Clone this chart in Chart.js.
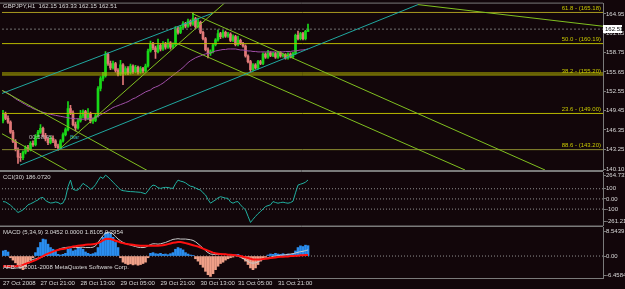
<!DOCTYPE html>
<html>
<head>
<meta charset="utf-8">
<script src="https://cdn.jsdelivr.net/npm/chart.js@4.4.0/dist/chart.umd.min.js"></script>
<style>
	body { margin: 0; background: #12060a; width: 625px; height: 289px; overflow: hidden; position: relative; }
	canvas { position: absolute; left: 0; }
	#main { top: 0; }
	#cci { top: 164px; }
	#macd { top: 220px; }
</style>
</head>
<body>
<canvas id="main" width="625" height="180"></canvas>
<canvas id="cci" width="625" height="70"></canvas>
<canvas id="macd" width="625" height="69"></canvas>
<script>
//GBPJPY H1 candles, one value per bar (bar 0 = 27 Oct 2008)
let opens = [147.8,148.9,148.2,147.6,146.0,144.5,143.2,142.0,141.9,142.8,
	143.5,143.2,144.2,144.0,145.3,146.0,146.6,145.5,144.9,144.3,
	145.0,144.6,143.8,143.5,144.6,145.6,146.4,149.8,149.1,147.2,
	146.7,147.8,148.6,149.3,148.2,149.0,147.8,147.9,148.6,153.0,
	154.6,155.0,158.5,157.0,156.3,157.0,155.9,155.3,156.8,155.4,
	156.2,155.5,156.6,155.7,156.4,155.6,156.2,155.8,156.6,159.0,
	160.1,159.5,158.9,159.9,159.3,160.2,159.6,160.3,159.6,160.0,
	162.6,162.0,162.8,163.4,163.0,163.8,163.3,164.2,162.9,163.6,
	162.0,161.0,159.2,158.6,158.9,160.0,160.8,161.8,161.3,162.0,
	161.4,161.7,160.7,161.3,160.0,160.7,160.2,159.8,158.2,157.3,
	156.0,156.8,156.3,157.3,157.0,158.5,158.0,158.7,158.3,158.6,
	158.0,158.7,158.2,158.4,157.9,158.5,158.1,158.6,161.5,161.0,
	161.8,161.0,162.15]
let highs = [149.5,149.2,148.6,147.8,146.3,144.8,143.5,142.6,143.0,143.8,
	143.9,144.5,144.6,145.6,146.3,147.2,146.8,145.8,145.1,145.3,
	145.4,144.8,144.1,144.8,145.9,146.7,150.9,150.3,149.4,147.6,
	148.1,149.5,149.6,149.5,149.8,149.2,148.3,148.9,153.3,154.9,
	155.6,158.9,158.7,157.4,157.4,157.2,156.2,157.5,157.0,156.5,
	156.5,156.9,156.8,156.7,156.6,156.5,156.4,156.9,159.3,160.6,
	160.4,159.8,160.9,160.2,160.5,160.4,160.9,160.5,160.3,162.9,
	162.9,163.1,163.7,163.6,164.1,164.0,165.2,164.4,164.3,163.8,
	162.2,161.2,159.5,159.2,160.2,161.0,162.4,162.0,162.3,162.2,
	162.0,161.9,161.6,161.5,161.4,160.9,160.4,160.0,158.4,157.5,
	157.0,157.0,157.5,157.5,158.7,158.7,159.1,158.9,158.8,158.8,
	158.9,158.9,158.6,158.6,158.7,158.7,158.8,161.7,162.2,162.0,
	162.0,162.3,163.33]
let lows = [147.5,148.0,147.4,145.8,144.3,143.0,141.0,141.3,141.6,142.5,
	142.9,143.0,143.7,143.8,145.0,145.8,145.2,144.6,144.0,144.1,
	144.3,143.5,143.1,143.3,144.4,145.4,146.2,148.8,147.0,146.2,
	146.5,147.6,148.3,147.9,148.0,147.5,147.4,147.7,148.4,152.6,
	154.2,154.8,156.7,156.0,156.1,155.6,155.0,155.1,153.6,155.2,
	155.2,155.3,155.4,155.5,155.3,155.4,155.5,155.6,156.4,158.8,
	159.2,157.8,158.7,159.0,159.1,159.3,159.4,159.3,159.4,159.8,
	161.7,161.8,162.5,162.7,162.8,163.0,163.1,162.6,162.7,161.8,
	160.8,159.0,157.9,158.3,158.7,159.8,160.6,161.0,161.1,161.2,
	161.2,160.5,160.5,159.8,159.8,160.0,159.6,158.0,157.1,155.6,
	155.8,156.1,156.1,156.8,156.8,157.8,157.8,158.1,158.1,157.8,
	157.8,158.0,158.0,157.7,157.7,157.9,157.9,158.4,160.8,160.8,
	160.8,160.8,162.15]
let closes = [148.9,148.2,147.6,146.0,144.5,143.2,142.0,141.9,142.8,143.5,
	143.2,144.2,144.0,145.3,146.0,146.6,145.5,144.9,144.3,145.0,
	144.6,143.8,143.5,144.6,145.6,146.4,149.8,149.1,147.2,146.7,
	147.8,148.6,149.3,148.2,149.0,147.8,147.9,148.6,153.0,154.6,
	155.0,158.5,157.0,156.3,157.0,155.9,155.3,156.8,155.4,156.2,
	155.5,156.6,155.7,156.4,155.6,156.2,155.8,156.6,159.0,160.1,
	159.5,158.9,159.9,159.3,160.2,159.6,160.3,159.6,160.0,162.6,
	162.0,162.8,163.4,163.0,163.8,163.3,164.2,162.9,163.6,162.0,
	161.0,159.2,158.6,158.9,160.0,160.8,161.8,161.3,162.0,161.4,
	161.7,160.7,161.3,160.0,160.7,160.2,159.8,158.2,157.3,156.0,
	156.8,156.3,157.3,157.0,158.5,158.0,158.7,158.3,158.6,158.0,
	158.7,158.2,158.4,157.9,158.5,158.1,158.6,161.5,161.0,161.8,
	161.0,162.15,162.51]

//moving average (purple)
let maPrices = [152.6,152.45,152.2,151.98,151.67,151.36,151.12,150.89,150.65,150.42,
	150.18,150.03,149.79,149.64,149.48,149.33,149.17,149.09,148.93,148.86,
	148.78,148.7,148.62,148.54,148.47,148.39,148.31,148.23,148.23,148.15,
	148.15,148.08,148.08,148.08,148.15,148.15,148.23,148.31,148.54,148.78,
	149.01,149.25,149.48,149.71,149.95,150.11,150.26,150.42,150.57,150.73,
	150.89,151.12,151.36,151.51,151.75,151.98,152.21,152.45,152.61,152.76,
	153.07,153.23,153.39,153.62,153.86,154.17,154.48,154.79,155.11,155.42,
	155.73,156.04,156.36,156.75,157.14,157.45,157.68,157.92,158.08,158.23,
	158.39,158.54,158.62,158.70,158.86,159.01,159.09,159.17,159.25,159.25,
	159.33,159.33,159.33,159.33,159.25,159.17,159.17,159.09,159.01,159.01,
	158.93,158.93,158.86,158.86,158.86,158.86,158.86,158.86,158.86,158.86,
	158.86,158.86,158.86,158.93,158.93,158.93,159.01,159.01,159.09,159.17,
	159.17,159.25,159.33]

//CCI(30)
let cciValues = [-26,-30,-45,-62,-85,-110,-133,-122,-107,-85,
	-58,-48,-36,-22,-10,10,15,-15,-30,-40,
	-38,-30,-35,-50,-40,10,120,185,95,85,
	88,120,153,135,120,94,110,140,180,217,
	201,234,215,190,165,140,115,90,81,78,
	74,72,71,69,67,65,58,50,80,115,
	136,130,110,104,110,114,112,106,104,150,
	185,175,169,158,140,125,120,108,95,88,
	60,39,-5,-42,-25,-10,10,22,15,8,
	6,-30,-42,-30,-26,-58,-85,-107,-170,-231,
	-200,-172,-145,-124,-100,-75,-66,-58,-26,-35,
	-42,-36,-32,-38,-42,-36,-22,60,136,145,
	153,165,186.07]

//MACD(5,34,9)
let macdHist = [1.5,1.7,1.2,-0.5,-1.2,-2,-2.8,-3.5,-4,-3.2,
	-2.2,-1.2,-0.5,1,2.5,4,5,4.8,3.5,2.5,
	2,1.5,0.5,0.3,0.5,0.8,2,2.2,1.5,1.8,
	2.3,2.5,2,1.2,0.8,0.5,0.7,1,2.5,4,
	5.5,6.8,7,6.5,5.5,4,2.5,-0.5,-1.8,-2.2,
	-2.5,-2.3,-2.6,-2.4,-2.7,-2.5,-2.2,-1.8,-0.5,0.8,
	1,0.7,0.6,0.8,0.5,0.6,0.4,0.7,1,2,
	2.5,2.2,1.8,1,0.6,0.3,0.2,-0.8,-1.5,-2.5,
	-3.3,-4.5,-5.5,-6,-5.2,-4,-3,-2.2,-1.8,-1.2,
	-0.8,-0.5,-0.3,0.4,0.5,-0.3,-0.8,-1.5,-2.5,-3.5,
	-4,-3.5,-2.5,-1.5,-0.8,-0.4,0.3,0.6,0.5,0.8,
	0.6,0.5,0.7,0.4,0.6,0.5,0.7,1.5,2.5,3,
	2.8,3.2,3.05]
let macdMain = [-3.0,-3.2,-3.4,-3.5,-3.6,-3.5,-3.5,-3.4,-3.2,-2.6,
	-2.0,-1.4,-1.0,-0.8,-0.6,-0.5,-0.2,0.2,0.6,1.0,
	1.2,1.5,1.9,2.2,2.4,2.5,2.6,2.6,2.5,2.5,
	2.5,2.6,2.6,2.5,2.5,2.5,2.6,3.0,4.0,5.0,
	6.0,6.8,7.0,7.0,6.5,5.8,5.0,4.5,4.0,3.7,
	3.5,3.2,3.0,2.8,2.6,2.5,2.5,2.6,3.0,3.4,
	3.6,3.6,3.5,3.6,3.8,4.0,4.3,4.6,4.9,5.0,
	5.1,5.0,5.0,5.0,4.9,4.8,4.6,4.2,3.6,3.0,
	2.3,1.6,1.0,0.6,0.5,0.5,0.5,0.5,0.5,0.5,
	0.4,0.3,0.2,0.1,0.0,-0.3,-0.7,-1.2,-1.6,-2.0,
	-2.1,-2.0,-1.7,-1.3,-1.0,-0.7,-0.5,-0.3,-0.1,0.0,
	0.1,0.2,0.3,0.4,0.5,0.6,0.7,0.9,1.1,1.3,
	1.4,1.6,1.81]
let macdSignal = [-3.0,-3.0,-3.0,-3.0,-3.0,-3.0,-2.9,-2.8,-2.6,-2.3,
	-2.0,-1.8,-1.5,-1.2,-0.8,-0.4,0.0,0.4,0.7,1.0,
	1.3,1.6,1.8,2.0,2.1,2.2,2.4,2.6,2.8,2.9,
	3.0,3.1,3.2,3.3,3.4,3.4,3.5,3.6,3.8,4.2,
	4.6,5.0,5.1,5.0,4.8,4.5,4.3,4.0,3.8,3.6,
	3.5,3.4,3.3,3.2,3.1,3.0,3.0,3.0,3.0,3.0,
	3.0,3.0,3.0,3.1,3.2,3.3,3.5,3.7,3.9,4.0,
	4.1,4.1,4.0,3.8,3.6,3.4,3.2,3.0,2.8,2.5,
	2.2,1.9,1.6,1.3,1.0,0.8,0.7,0.6,0.5,0.5,
	0.4,0.4,0.3,0.2,0.1,0.0,-0.2,-0.4,-0.6,-0.8,
	-1.0,-1.0,-1.0,-1.0,-0.9,-0.8,-0.7,-0.6,-0.5,-0.4,
	-0.3,-0.2,-0.2,-0.1,-0.1,0.0,0.0,0.1,0.1,0.2,
	0.2,0.3,0.3]

//fibonacci levels + labels
let fibLevels = [165.18, 160.19, 155.48, 155.17, 149.00, 143.20]
let fibLabels = ['61.8 - (165.18)', '50.0 - (160.19)', '', '38.2 - (155.20)', '23.6 - (149.00)', '88.6 - (143.20)']

//trend lines: [[bar, price], [bar, price]]
let cyanLines = [
	[[-1.2, 152.08], [83.6, 165.02]],
	[[6.8, 140.72], [166, 166.44]]
]
let greenLines = [
	[[22, 143.09], [88.8, 166.76]],
	[[-1.2, 152.87], [58.8, 139.62]],
	[[-1.2, 145.93], [26.8, 139.62]],
	[[75.6, 165.02], [216.8, 139.94]],
	[[70, 160.13], [184.8, 139.94]],
	[[166, 166.44], [240, 162.97]]
]

//axis ticks
let priceTicks = [140.10, 143.25, 146.35, 149.45, 152.55, 155.65, 158.75, 161.85, 164.95]
let cciTickPos = [230, 100, 0, -100, -223]
let cciTickLabels = ['264.7339', '100', '0.00', '-100', '-261.213']
let macdTickPos = [7.36, 0, -5.66]
let macdTickLabels = ['8.5439', '0.00', '-6.4584']
let timeTickBars = [0, 15, 31, 47, 63, 79, 94, 110]
let timeTickLabels = ['27 Oct 2008', '27 Oct 21:00', '28 Oct 13:00', '29 Oct 05:00', '29 Oct 21:00', '30 Oct 13:00', '31 Oct 05:00', '31 Oct 21:00']

let xMin = -0.4, xMax = 240
let lastClose = closes[closes.length - 1]

//colors
let upColor = '#18d818'
let downColor = '#e07878'
let gridGrey = '#7a7a7a'
let textGrey = '#dadada'
let fibColor = '#b8b800'
let fontFamily = '"Liberation Sans", Arial, sans-serif'
let smallFont = '6px ' + fontFamily

Chart.defaults.font.family = fontFamily
Chart.defaults.font.size = 6
Chart.defaults.color = textGrey

let candleColor = (ctx) => closes[ctx.dataIndex] >= opens[ctx.dataIndex] ? upColor : downColor
let bars = closes.map((c, i) => i)

function hLine(value, color, dash, order) {
	return {
		type: 'line',
		data: [{ x: xMin, y: value }, { x: xMax, y: value }],
		borderColor: color, borderWidth: 1, borderDash: dash || [],
		pointRadius: 0, order: order || 2
	}
}

function trendLine(seg, color) {
	return {
		type: 'line',
		data: seg.map((p) => ({ x: p[0], y: p[1] })),
		borderColor: color, borderWidth: 1, pointRadius: 0, order: 1
	}
}

function frame(chart) {
	let ctx = chart.ctx, a = chart.chartArea
	ctx.save()
	ctx.strokeStyle = gridGrey
	ctx.lineWidth = 1
	ctx.beginPath()
	ctx.moveTo(0, a.top - 0.5)
	ctx.lineTo(a.right, a.top - 0.5)
	ctx.moveTo(0, a.bottom + 0.5)
	ctx.lineTo(a.right, a.bottom + 0.5)
	ctx.stroke()
	ctx.restore()
}

function text(ctx, str, x, y, color, align) {
	ctx.fillStyle = color
	ctx.textAlign = align || 'left'
	ctx.textBaseline = 'middle'
	ctx.fillText(str, x, y)
}

function rightAxis(min, max, ticksFn, labelFn) {
	return {
		position: 'right', min: min, max: max,
		afterFit: (s) => { s.width = 22 },
		afterBuildTicks: ticksFn,
		ticks: { padding: 0, color: textGrey, callback: labelFn, autoSkip: false },
		grid: { drawOnChartArea: false, color: gridGrey, tickLength: 3 },
		border: { color: gridGrey }
	}
}

//---------- main price panel ----------
let mainDecor = {
	id: 'mainDecor',
	afterDraw(chart) {
		let ctx = chart.ctx, y = chart.scales.y
		frame(chart)
		ctx.save()
		ctx.font = smallFont
		text(ctx, 'GBPJPY,H1  162.15 163.33 162.15 162.51', 3, 6, textGrey)
		fibLevels.forEach((lvl, i) => {
			if (fibLabels[i]) text(ctx, fibLabels[i], 601, y.getPixelForValue(lvl) - 4, '#c8c800', 'right')
		})
		text(ctx, '00:58:45', 29, 137, '#b8b8b8')
		text(ctx, 'Bar', 70, 137, '#30b0b0')
		//current price box
		let py = Math.round(y.getPixelForValue(lastClose))
		ctx.fillStyle = '#ffffff'
		ctx.fillRect(603, py - 4, 19, 8)
		text(ctx, lastClose.toFixed(2), 605, py, '#000000')
		ctx.restore()
	}
}

let mainSets = [
	{ type: 'bar', data: bars.map((i) => ({ x: i, y: [lows[i], highs[i]] })), backgroundColor: candleColor, barThickness: 1, grouped: false, order: 10 },
	{ type: 'bar', data: bars.map((i) => ({ x: i, y: [opens[i], closes[i]] })), backgroundColor: candleColor, barThickness: 2, minBarLength: 1, grouped: false, order: 9 },
	{ type: 'line', data: bars.map((i) => ({ x: i, y: maPrices[i] })), borderColor: '#a050a8', borderWidth: 1, pointRadius: 0, order: 5 },
	hLine(lastClose, '#707070', [2, 2], 3)
]
fibLevels.forEach((lvl, i) => mainSets.push(hLine(lvl, i == 0 ? '#a89a20' : i == 5 ? '#8c8c30' : fibColor)))
cyanLines.forEach((seg) => mainSets.push(trendLine(seg, '#20a8a0')))
greenLines.forEach((seg) => mainSets.push(trendLine(seg, '#80c020')))

new Chart(document.getElementById('main'), {
	type: 'bar',
	data: { datasets: mainSets },
	options: {
		responsive: false,
		animation: false,
		layout: { padding: { top: 1, bottom: 10, left: 2, right: 0 } },
		plugins: { legend: { display: false }, tooltip: { enabled: false } },
		scales: {
			x: { type: 'linear', min: xMin, max: xMax, display: false, offset: false },
			y: rightAxis(139.94, 166.60,
				(s) => { s.ticks = priceTicks.map((v) => ({ value: v })) },
				(v) => v.toFixed(2))
		}
	},
	plugins: [mainDecor]
})

//---------- CCI panel ----------
new Chart(document.getElementById('cci'), {
	type: 'line',
	data: {
		datasets: [
			{ data: bars.map((i) => ({ x: i, y: cciValues[i] })), borderColor: '#20b0a0', borderWidth: 1, pointRadius: 0, order: 1 },
			hLine(100, '#909090', [1, 2]),
			hLine(0, '#909090', [1, 2]),
			hLine(-100, '#909090', [1, 2])
		]
	},
	options: {
		responsive: false,
		animation: false,
		layout: { padding: { top: 8, bottom: 8.5, left: 2, right: 0 } },
		plugins: { legend: { display: false }, tooltip: { enabled: false } },
		scales: {
			x: { type: 'linear', min: xMin, max: xMax, display: false, offset: false },
			y: rightAxis(-261.213, 264.7339,
				(s) => { s.ticks = cciTickPos.map((v) => ({ value: v })) },
				(v, idx) => cciTickLabels[idx])
		}
	},
	plugins: [{
		id: 'cciDecor',
		afterDraw(chart) {
			let ctx = chart.ctx
			frame(chart)
			ctx.save()
			ctx.font = smallFont
			text(ctx, 'CCI(30) 186.0720', 3, chart.chartArea.top + 5, textGrey)
			ctx.restore()
		}
	}]
})

//---------- MACD panel ----------
new Chart(document.getElementById('macd'), {
	type: 'bar',
	data: {
		datasets: [
			{ type: 'bar', data: bars.map((i) => ({ x: i, y: macdHist[i] })), backgroundColor: (ctx) => macdHist[ctx.dataIndex] >= 0 ? '#2a8ef0' : '#f0a088', barThickness: 2, grouped: false, order: 5 },
			{ type: 'line', data: bars.map((i) => ({ x: i, y: macdMain[i] })), borderColor: '#c8c8c8', borderWidth: 1, pointRadius: 0, order: 2 },
			{ type: 'line', data: bars.map((i) => ({ x: i, y: macdSignal[i] })), borderColor: '#ff1010', borderWidth: 2, pointRadius: 0, order: 1 },
			hLine(0, '#909090', [1, 2], 6)
		]
	},
	options: {
		responsive: false,
		animation: false,
		layout: { padding: { top: 7, bottom: 0, left: 2, right: 0 } },
		plugins: { legend: { display: false }, tooltip: { enabled: false } },
		scales: {
			x: {
				type: 'linear', min: xMin, max: xMax, offset: false,
				afterFit: (s) => { s.height = 11 },
				afterBuildTicks: (s) => { s.ticks = timeTickBars.map((v) => ({ value: v })) },
				ticks: { autoSkip: false, maxRotation: 0, align: 'start', padding: 0, color: textGrey, callback: (v, idx) => timeTickLabels[idx] },
				grid: { drawOnChartArea: false, color: gridGrey, tickLength: 2 },
				border: { color: gridGrey }
			},
			y: rightAxis(-6.4584, 8.5439,
				(s) => { s.ticks = macdTickPos.map((v) => ({ value: v })) },
				(v, idx) => macdTickLabels[idx])
		}
	},
	plugins: [{
		id: 'macdDecor',
		afterDraw(chart) {
			let ctx = chart.ctx, a = chart.chartArea
			frame(chart)
			ctx.save()
			ctx.font = smallFont
			text(ctx, 'MACD (5,34,9) 3.0452 0.0000 1.8105 0.2954', 3, a.top + 5, textGrey)
			text(ctx, 'AFB: \u00a9 2001-2008 MetaQuotes Software Corp.', 3, a.top + 40, textGrey)
			ctx.restore()
		}
	}]
})
</script>
</body>
</html>
